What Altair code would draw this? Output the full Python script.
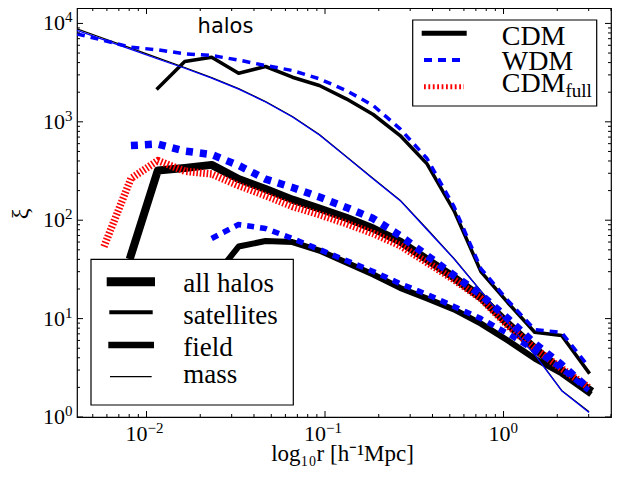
import altair as alt
import pandas as pd

# ---------------- data ----------------
r_bins = [0.00408, 0.00578, 0.00818, 0.01157, 0.01637, 0.02317, 0.0328, 0.04643,
          0.06569, 0.09297, 0.1315, 0.1862, 0.2635, 0.3728, 0.5276, 0.7467,
          1.057, 1.495, 2.116, 2.995]

cdm_mass = [8810, 7030, 5600, 4460, 3565, 2820, 2180, 1607, 1133, 743, 444, 265,
            160, 81.4, 40.8, 19.1, 9.1, 4.35, 1.86, 1.14]
wdm_mass = [8500, 6800, 5450, 4350, 3500, 2780, 2150, 1590, 1120, 735, 440, 262,
            158, 80, 40.5, 19.0, 9.0, 4.3, 1.85, 1.12]
cdm_sat = [2195, 4100, 4540, 3120, 3650, 2840, 2340, 1713, 1187, 726, 374, 125.5,
           30.1, 14.5, 7.27, 6.73, 2.85]                      # from bin 3
wdm_sat = [7840, 6700, 5730, 5390, 4910, 4720, 4245, 3735, 3320, 2735, 2080, 1466,
           849, 424, 138, 32.3, 15.3, 7.75, 7.22, 3.26]      # from bin 0
cdm_all = [44, 320, 340, 365, 262, 208, 162, 131.5, 106, 82.4, 60.8, 39.9, 26.2,
           16.4, 8.9, 4.97, 2.97, 1.91]                       # from bin 2
cdm_full = [54, 265, 404, 315, 295, 225, 178, 138, 114, 92.5, 73.3, 55.3, 37.2,
            24.9, 16.0, 8.5, 4.97, 3.11, 2.0]                 # from bin 1
wdm_all = [574, 595, 505, 465, 360, 262, 215, 172, 135, 104, 69.6, 43.8, 27.5,
           17.5, 10.0, 5.58, 3.4, 1.95]                       # from bin 2
cdm_field = [24.4, 54, 61.5, 60, 49.2, 37.2, 28.1, 20.5, 16.0, 12.4, 8.9, 6.0,
             3.93, 2.77, 1.77]                                # from bin 5
wdm_field = [65.2, 90.4, 82.4, 65.2, 50.4, 38.9, 30.1, 22.7, 17.6, 13.3, 10.0,
             7.06, 4.74, 3.11, 1.86]                          # from bin 5

x_major = [0.01, 0.1, 1.0]
x_major_exp = ["\u22122", "\u22121", "0"]
y_major = [1, 10, 100, 1000, 10000]
y_major_exp = ["0", "1", "2", "3", "4"]

# ---------------- layout ----------------
W, H = 534, 409
XD = [0.00408, 4.0]
YD = [1, 14350]
SERIF = "Liberation Serif"

xs = alt.Scale(type="log", domain=XD, nice=False)
ys = alt.Scale(type="log", domain=YD, nice=False)

x_minor = [m * 10.0 ** e for e in (-3, -2, -1, 0) for m in range(2, 10)
           if XD[0] <= m * 10.0 ** e <= XD[1]]
y_minor = [m * 10.0 ** e for e in (0, 1, 2, 3, 4) for m in range(2, 10)
           if YD[0] <= m * 10.0 ** e <= YD[1]]

one = pd.DataFrame({"a": [0]})


def line(start, vals, color, width, dash=None, cap="butt"):
    df = pd.DataFrame({"r": r_bins[start:start + len(vals)], "xi": vals})
    kw = dict(color=color, strokeWidth=width, clip=True, strokeCap=cap,
              strokeJoin="round")
    if dash:
        kw["strokeDash"] = dash
    return alt.Chart(df).mark_line(**kw).encode(
        x=alt.X("r:Q", scale=xs, axis=None),
        y=alt.Y("xi:Q", scale=ys, axis=None),
        order=alt.Order("r:Q"))


layers = [
    line(2, cdm_all, "black", 8, cap="square"),
    line(3, cdm_sat, "black", 3.5, cap="square"),
    line(5, cdm_field, "black", 6, cap="square"),
    line(0, cdm_mass, "black", 1.3, cap="square"),
    line(1, cdm_full, "#ff0000", 7.5, dash=[1.6, 1.8]),
    line(2, wdm_all, "#0000ff", 7.5, dash=[7, 7]),
    line(0, wdm_sat, "#0000ff", 3.5, dash=[8, 6]),
    line(5, wdm_field, "#0000ff", 5.5, dash=[7, 6]),
    line(0, wdm_mass, "#0000ff", 1.2, cap="square"),
]

# ---------------- inward ticks on all four sides ----------------
def xticks(vals, L):
    df = pd.DataFrame({"r": vals})
    enc = dict(x=alt.X("r:Q", scale=xs, axis=None))
    b = alt.Chart(df).mark_rule(color="black", strokeWidth=1).encode(
        y=alt.value(H), y2=alt.value(H - L), **enc)
    t = alt.Chart(df).mark_rule(color="black", strokeWidth=1).encode(
        y=alt.value(0), y2=alt.value(L), **enc)
    return [b, t]


def yticks(vals, L):
    df = pd.DataFrame({"xi": vals})
    enc = dict(y=alt.Y("xi:Q", scale=ys, axis=None))
    lft = alt.Chart(df).mark_rule(color="black", strokeWidth=1).encode(
        x=alt.value(0), x2=alt.value(L), **enc)
    rgt = alt.Chart(df).mark_rule(color="black", strokeWidth=1).encode(
        x=alt.value(W), x2=alt.value(W - L), **enc)
    return [lft, rgt]


layers += xticks(x_major, 6) + xticks(x_minor, 3)
layers += yticks(y_major, 6) + yticks(y_minor, 3)

# ---------------- tick labels ----------------
ydf = pd.DataFrame({"xi": y_major, "e": y_major_exp})
layers.append(alt.Chart(ydf).mark_text(
    align="right", baseline="middle", font=SERIF, fontSize=22).encode(
    x=alt.value(-12), y=alt.Y("xi:Q", scale=ys, axis=None), text=alt.value("10")))
layers.append(alt.Chart(ydf).mark_text(
    align="left", baseline="middle", font=SERIF, fontSize=15, dy=-6).encode(
    x=alt.value(-12), y=alt.Y("xi:Q", scale=ys, axis=None), text="e:N"))

for v, e in zip(x_major, x_major_exp):
    d = pd.DataFrame({"r": [v], "e": [e]})
    dx = 7 if e == "0" else 1
    layers.append(alt.Chart(d).mark_text(
        align="right", baseline="middle", font=SERIF, fontSize=22, dx=dx).encode(
        x=alt.X("r:Q", scale=xs, axis=None), y=alt.value(426), text=alt.value("10")))
    layers.append(alt.Chart(d).mark_text(
        align="left", baseline="middle", font=SERIF, fontSize=15, dx=dx).encode(
        x=alt.X("r:Q", scale=xs, axis=None), y=alt.value(420), text="e:N"))


def txt(x, y, s, size, font=SERIF, align="left", angle=None, baseline="alphabetic"):
    kw = dict(align=align, baseline=baseline, font=font, fontSize=size, color="black")
    if angle is not None:
        kw["angle"] = angle
    return alt.Chart(one).mark_text(**kw).encode(
        x=alt.value(x), y=alt.value(y), text=alt.value(s))


layers.append(txt(265.5, 453, "log\u2081\u2080r [h\u207b\u00b9Mpc]", 23, align="center"))
layers.append(txt(-56, 206, "\u03be", 24, align="center", angle=270, baseline="middle"))
layers.append(txt(148.5, 25, "halos", 21, font="DejaVu Sans", align="center"))

# ---------------- legends ----------------
def box(x1, y1, x2, y2):
    return alt.Chart(one).mark_rect(fill="white", stroke="black", strokeWidth=1.2).encode(
        x=alt.value(x1), x2=alt.value(x2), y=alt.value(y1), y2=alt.value(y2))


def sample(x1, x2, y, color, width, dash=None):
    kw = dict(color=color, strokeWidth=width, strokeCap="butt")
    if dash:
        kw["strokeDash"] = dash
    return alt.Chart(one).mark_rule(**kw).encode(
        x=alt.value(x1), x2=alt.value(x2), y=alt.value(y))


# model legend (top right)
layers += [
    box(335.7, 12, 519.7, 98),
    sample(344.7, 389.7, 25.3, "black", 5),
    sample(347, 384, 52, "#0000ff", 4, [8, 6]),
    sample(347, 387, 78.7, "#ff0000", 5, [1.8, 2.6]),
    txt(424.7, 37, "CDM", 28),
    txt(424.7, 62, "WDM", 28),
    txt(424.7, 83.7, "CDM", 28),
    txt(488.5, 89, "full", 19),
]

# halo-type legend (bottom left)
layers += [
    box(14, 251.3, 216.3, 397),
    sample(29.7, 78, 273.7, "black", 9),
    sample(32.3, 75.7, 304.3, "black", 4),
    sample(31.3, 77, 337, "black", 6.5),
    sample(33, 74.7, 368.7, "black", 1.3),
    txt(106.3, 283.7, "all halos", 27),
    txt(106.3, 315.5, "satellites", 27),
    txt(106.3, 347.5, "field", 27),
    txt(106.3, 374.5, "mass", 27),
]

chart = alt.layer(*layers).properties(
    width=W, height=H,
    padding={"left": 69, "top": 0, "right": 1, "bottom": 52},
    autosize=alt.AutoSizeParams(type="none"),
).configure_view(stroke="black", strokeWidth=1.2)

chart.save("out.html", embed_options={"renderer": "svg", "actions": False})
